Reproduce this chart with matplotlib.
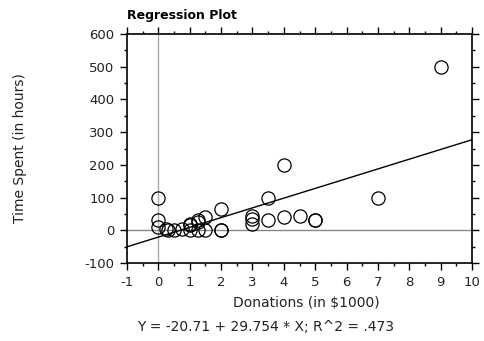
import matplotlib
matplotlib.use("Agg")
import matplotlib.pyplot as plt
from matplotlib.ticker import MultipleLocator
import numpy as np

# donations (in $1000) and time spent (hours)
donations = [9, 4, 0, 3.5, 7, 2, 0, 0, 0.25, 0.3, 0.5, 0.75, 1, 1, 1,
             1.25, 1.25, 1.25, 1.5, 1.5, 2, 2, 3, 3, 3, 3.5, 4, 4.5, 5, 5]
hours = [500, 200, 100, 100, 100, 65, 30, 10, 5, 0, 0, 5, 20, 15, 0,
         30, 25, 0, 40, 0, 0, 0, 45, 35, 20, 30, 40, 45, 30, 30]
intercept = -20.71
slope = 29.754
r2 = ".473"

plt.rcParams["font.family"] = "DejaVu Sans"
plt.rcParams["axes.unicode_minus"] = False
fig = plt.figure(figsize=(4.85, 3.41), dpi=100)
ax = fig.add_axes([0.2619, 0.2287, 0.7113, 0.6716])

ax.axvline(0, color="#aaaaaa", lw=1, zorder=1)
ax.axhline(0, color="#888888", lw=1, zorder=1)

xs = np.array([-1, 10])
ax.plot(xs, intercept + slope * xs, color="black", lw=1, zorder=2)
ax.plot(donations, hours, "o", mfc="none", mec="black", ms=9.5, mew=0.9, zorder=3)

ax.set_xlim(-1, 10)
ax.set_ylim(-100, 600)
ax.xaxis.set_major_locator(MultipleLocator(1))
ax.xaxis.set_minor_locator(MultipleLocator(0.5))
ax.yaxis.set_major_locator(MultipleLocator(100))
ax.yaxis.set_minor_locator(MultipleLocator(50))
ax.tick_params(which="both", direction="out", top=True, right=True,
               labeltop=False, labelright=False, width=1, labelsize=9.5,
               labelcolor="#222222")
ax.tick_params(which="major", length=5)
ax.tick_params(which="minor", length=2.5)
ax.tick_params(axis="x", pad=4.5)
ax.tick_params(axis="y", pad=4)
for s in ax.spines.values():
    s.set_linewidth(1.2)

ax.set_xlabel("Donations (in $1000)", fontsize=10, va="center", color="#222222")
ax.xaxis.set_label_coords(0.52, -0.175)
ax.set_ylabel("Time Spent (in hours)", fontsize=10, va="center", color="#222222")
ax.yaxis.set_label_coords(-0.31, 0.5)
fig.text(0.2619, 0.945, "Regression Plot", fontsize=9, fontweight="bold", ha="left")
fig.text(0.547, 0.028, f"Y = {intercept} + {slope} * X; R^2 = {r2}", fontsize=10,
         ha="center", color="#222222")

fig.savefig("out.png", dpi=100)
